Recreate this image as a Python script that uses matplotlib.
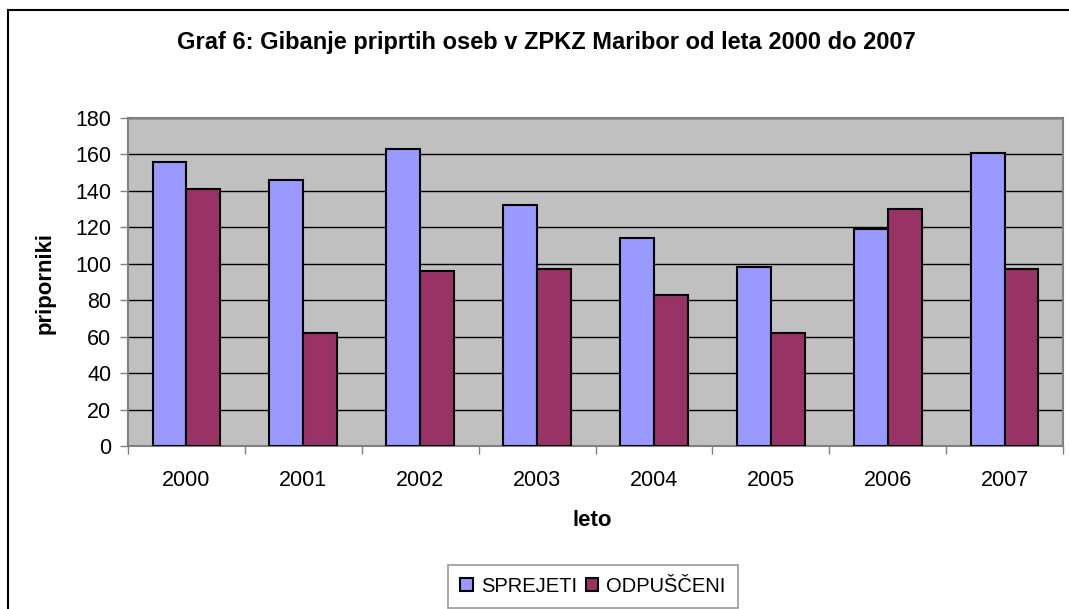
import matplotlib
matplotlib.use("Agg")
import matplotlib.pyplot as plt
from matplotlib.patches import Rectangle
import numpy as np

plt.rcParams['font.family'] = ['Liberation Sans', 'DejaVu Sans']

years = ['2000', '2001', '2002', '2003', '2004', '2005', '2006', '2007']
sprejeti = [156, 146, 163, 132, 114, 98, 119, 161]
odpusceni = [141, 62, 96, 97, 83, 62, 130, 97]
series_names = ['SPREJETI', 'ODPUŠČENI']
yticks = [0, 20, 40, 60, 80, 100, 120, 140, 160, 180]

W, H = 1069, 609
fig = plt.figure(figsize=(W / 100, H / 100), dpi=100)
fig.patch.set_facecolor('white')

# outer border
fig.patches.append(Rectangle((7.5 / W, -0.1), 1.2, (H - 10) / H + 0.1,
                             transform=fig.transFigure, fill=False,
                             edgecolor='black', linewidth=1.5, zorder=0))

ax = fig.add_axes([128 / W, (H - 446) / H, (1063 - 128) / W, (446 - 118) / H])
ax.set_facecolor('#c0c0c0')

x = np.arange(len(years))
bw = 0.29
ax.bar(x - bw / 2, sprejeti, width=bw, color='#9999ff', edgecolor='black',
       linewidth=1.5, label=series_names[0], zorder=3)
ax.bar(x + bw / 2, odpusceni, width=bw, color='#993366', edgecolor='black',
       linewidth=1.5, label=series_names[1], zorder=3)

ax.set_xlim(-0.5, len(years) - 0.5)
ax.set_ylim(0, 180)
ax.set_yticks(yticks)
ax.set_yticklabels([str(v) for v in yticks], fontsize=15.5)
ax.yaxis.grid(True, color='black', linewidth=1, zorder=1)
ax.set_axisbelow(True)

ax.set_xticks(x)
ax.set_xticklabels(years, fontsize=15.5)
ax.set_xticks(np.arange(len(years) + 1) - 0.5, minor=True)
ax.tick_params(axis='x', which='major', length=0, pad=17)
ax.tick_params(axis='x', which='minor', length=6, color='#808080', width=1)
ax.tick_params(axis='y', length=6, color='#808080', width=1, pad=6)

for s in ax.spines.values():
    s.set_color('#808080')
    s.set_linewidth(1.5)

fig.text(546 / W, 1 - 43 / H, 'Graf 6: Gibanje priprtih oseb v ZPKZ Maribor od leta 2000 do 2007',
         ha='center', va='center', fontsize=17, fontweight='bold')
fig.text(592 / W, 1 - 520 / H, 'leto', ha='center', va='center',
         fontsize=16, fontweight='bold')
fig.text(45 / W, 1 - 283 / H, 'priporniki', ha='center', va='center',
         rotation=90, fontsize=16, fontweight='bold')

leg = fig.legend(loc='center', bbox_to_anchor=(593 / W, 1 - 586.5 / H),
                 ncol=2, fontsize=14.5, frameon=True, fancybox=False,
                 handlelength=0.62, handleheight=0.62, handletextpad=0.4,
                 columnspacing=0.45, borderpad=0.6, borderaxespad=0)
leg.get_frame().set_edgecolor('#808080')
leg.get_frame().set_linewidth(1.2)

fig.savefig('out.png', dpi=100, facecolor='white')
